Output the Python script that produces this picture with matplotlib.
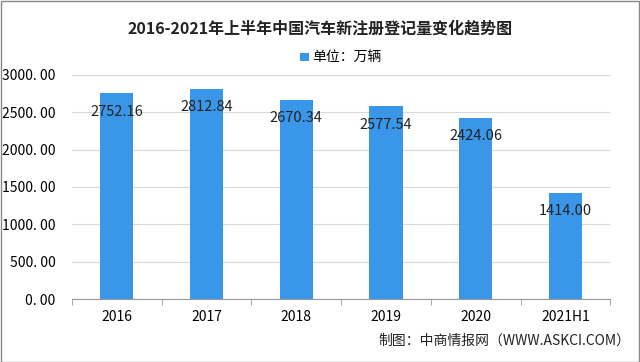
import matplotlib.pyplot as plt
import numpy as np

plt.rcParams['font.family'] = ['Noto Sans CJK SC', 'DejaVu Sans']

anos = ['2016', '2017', '2018', '2019', '2020', '2021H1']
registros = [2752.16, 2812.84, 2670.34, 2577.54, 2424.06, 1414.00]
yticks = [0, 500, 1000, 1500, 2000, 2500, 3000]

fig = plt.figure(figsize=(6.4, 3.62), dpi=100)
ax = fig.add_axes([0.1125, 0.174, 0.841, 0.619])

x = np.arange(len(anos))
ax.bar(x, registros, width=0.37, color='#3a96e8', label='单位：万辆', zorder=2)

# rótulos um pouco abaixo do topo de cada barra
for xi, v in zip(x, registros):
    ax.annotate(f'{v:.2f}', (xi, v), xytext=(0, -13), textcoords='offset points',
                ha='center', va='center', fontsize=10.5, color='#222222', zorder=3)

ax.set_ylim(0, 3000)
ax.set_xlim(-0.5, len(anos) - 0.5)
ax.set_yticks(yticks)
ax.set_yticklabels([f'{t:.2f}'.replace('.', '. ') for t in yticks], fontsize=10)
ax.set_xticks(x)
ax.set_xticklabels(anos, fontsize=10)
ax.tick_params(axis='y', length=0, pad=12)
ax.tick_params(axis='x', length=0, pad=8)
ax.set_xticks(np.arange(-0.5, len(anos)), minor=True)
ax.tick_params(axis='x', which='minor', length=4, color='#999999', direction='out')
ax.grid(axis='y', color='#d9d9d9', lw=0.8, zorder=0)
for s in ['top', 'right', 'left']:
    ax.spines[s].set_visible(False)
ax.spines['bottom'].set_color('#999999')

fig.text(0.5, 0.922, '2016-2021年上半年中国汽车新注册登记量变化趋势图', ha='center', va='center',
         fontsize=11.5, fontweight='bold', color='#222222')
ax.legend(loc='center', bbox_to_anchor=(0.5, 1.076), frameon=False, fontsize=10,
          handlelength=0.6, handleheight=0.6, handletextpad=0.3)
fig.text(0.985, 0.06, '制图：中商情报网（WWW.ASKCI.COM）', ha='right', va='center', fontsize=10, color='#222222')

fig.add_artist(plt.Rectangle((0.001, 0.001), 0.997, 0.997, transform=fig.transFigure,
                             fill=False, edgecolor='#888888', lw=1))

fig.savefig('out.png', dpi=100)
